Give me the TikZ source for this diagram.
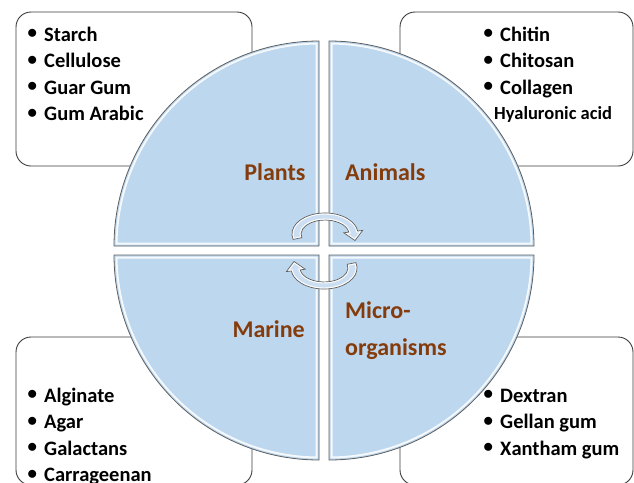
\documentclass[tikz,border=0pt]{standalone}
\usepackage{fontspec}
\setmainfont{Carlito}
\definecolor{qfill}{RGB}{189,215,238}
\definecolor{afill}{RGB}{203,222,242}
\definecolor{qline}{RGB}{95,95,95}
\definecolor{boxline}{RGB}{60,60,60}
\definecolor{srcbrown}{RGB}{133,60,12}
\newcommand{\itembullet}{\makebox[17pt][l]{\raisebox{2.5pt}{$\bullet$}}}
\tikzset{
  listbox/.style={draw=boxline, line width=0.9pt, fill=white, rounded corners=15pt, inner sep=0pt},
  item/.style={anchor=base west, inner sep=0pt, font=\fontsize{20.5}{24}\selectfont\bfseries},
  srclabel/.style={inner sep=0pt, text=srcbrown, font=\fontsize{24}{28}\selectfont\bfseries}
}
\begin{document}
\begin{tikzpicture}[x=1pt,y=-1pt]
  \useasboundingbox (0,0) rectangle (634,482);
  % boxes behind the circle
  \node[listbox, minimum width=236pt, minimum height=154pt] (plantbox) at (134,89) {};
  \node[listbox, minimum width=233pt, minimum height=154pt] (animalbox) at (516.5,89) {};
  \node[listbox, minimum width=236pt, minimum height=148pt] (marinebox) at (134,411) {};
  \node[listbox, minimum width=233pt, minimum height=148pt] (microbox) at (516.5,411) {};
  % four quarters
  \foreach \cx/\cy/\sa in {319/246/180, 329/246/270, 319/255/90, 329/255/0} {
    \fill[qfill] (\cx,\cy) -- ++(\sa:205) arc[start angle=\sa, delta angle=90, radius=205] -- cycle;
    \begin{scope}
      \clip (\cx,\cy) -- ++(\sa:205) arc[start angle=\sa, delta angle=90, radius=205] -- cycle;
      \draw[white!85!qfill, line width=7pt] (\cx,\cy) -- ++(\sa:205) arc[start angle=\sa, delta angle=90, radius=205] -- cycle;
      \draw[qfill, line width=3pt] (\cx,\cy) -- ++(\sa:205) arc[start angle=\sa, delta angle=90, radius=205] -- cycle;
    \end{scope}
    \draw[qline, line width=0.8pt] (\cx,\cy) -- ++(\sa:205) arc[start angle=\sa, delta angle=90, radius=205] -- cycle;
  }
  % round arrows
  \foreach \r in {0,180} {
    \begin{scope}[rotate around={\r:(324.5,251)}]
      \fill[afill] (293.1,239.4) arc[start angle=165, end angle=352, x radius=33, y radius=21]
        -- (362.6,230.4) -- (355,240.5) -- (343.8,232.8) -- (348.8,232.1)
        arc[start angle=352, end angle=165, x radius=24, y radius=14] -- cycle;
      \begin{scope}
        \clip (293.1,239.4) arc[start angle=165, end angle=352, x radius=33, y radius=21]
          -- (362.6,230.4) -- (355,240.5) -- (343.8,232.8) -- (348.8,232.1)
          arc[start angle=352, end angle=165, x radius=24, y radius=14] -- cycle;
        \draw[white, line width=3pt] (293.1,239.4) arc[start angle=165, end angle=352, x radius=33, y radius=21]
          -- (362.6,230.4) -- (355,240.5) -- (343.8,232.8) -- (348.8,232.1)
          arc[start angle=352, end angle=165, x radius=24, y radius=14] -- cycle;
      \end{scope}
      \draw[qline, line width=0.7pt] (293.1,239.4) arc[start angle=165, end angle=352, x radius=33, y radius=21]
        -- (362.6,230.4) -- (355,240.5) -- (343.8,232.8) -- (348.8,232.1)
        arc[start angle=352, end angle=165, x radius=24, y radius=14] -- cycle;
    \end{scope}
  }
  % sources
  \node[srclabel, anchor=base] (plants) at (275,180) {Plants};
  \node[srclabel, anchor=base west] (animals) at (345,180) {Animals};
  \node[srclabel, anchor=base east] (marine) at (305,337) {Marine};
  \node[srclabel, anchor=base west] (micro) at (345,318) {Micro-};
  \node[srclabel, anchor=base west] (organisms) at (345,355) {organisms};
  % lists
  \foreach \t [count=\i] in {Starch, Cellulose, Guar Gum, Gum Arabic}
    \node[item] (plant\i) at (27,{41+26.5*(\i-1)}) {\itembullet\t};
  \foreach \t [count=\i] in {Chitin, Chitosan, Collagen}
    \node[item] (animal\i) at (483,{41+26.5*(\i-1)}) {\itembullet\t};
  \node[item, font=\fontsize{18.5}{22}\selectfont\bfseries] (animal4) at (494,119) {Hyaluronic acid};
  \foreach \t [count=\i] in {Alginate, Agar, Galactans, Carrageenan}
    \node[item] (marine\i) at (27,{402+26.5*(\i-1)}) {\itembullet\t};
  \foreach \t [count=\i] in {Dextran, Gellan gum, Xantham gum}
    \node[item] (micro\i) at (483,{402+26.5*(\i-1)}) {\itembullet\t};
\end{tikzpicture}
\end{document}
